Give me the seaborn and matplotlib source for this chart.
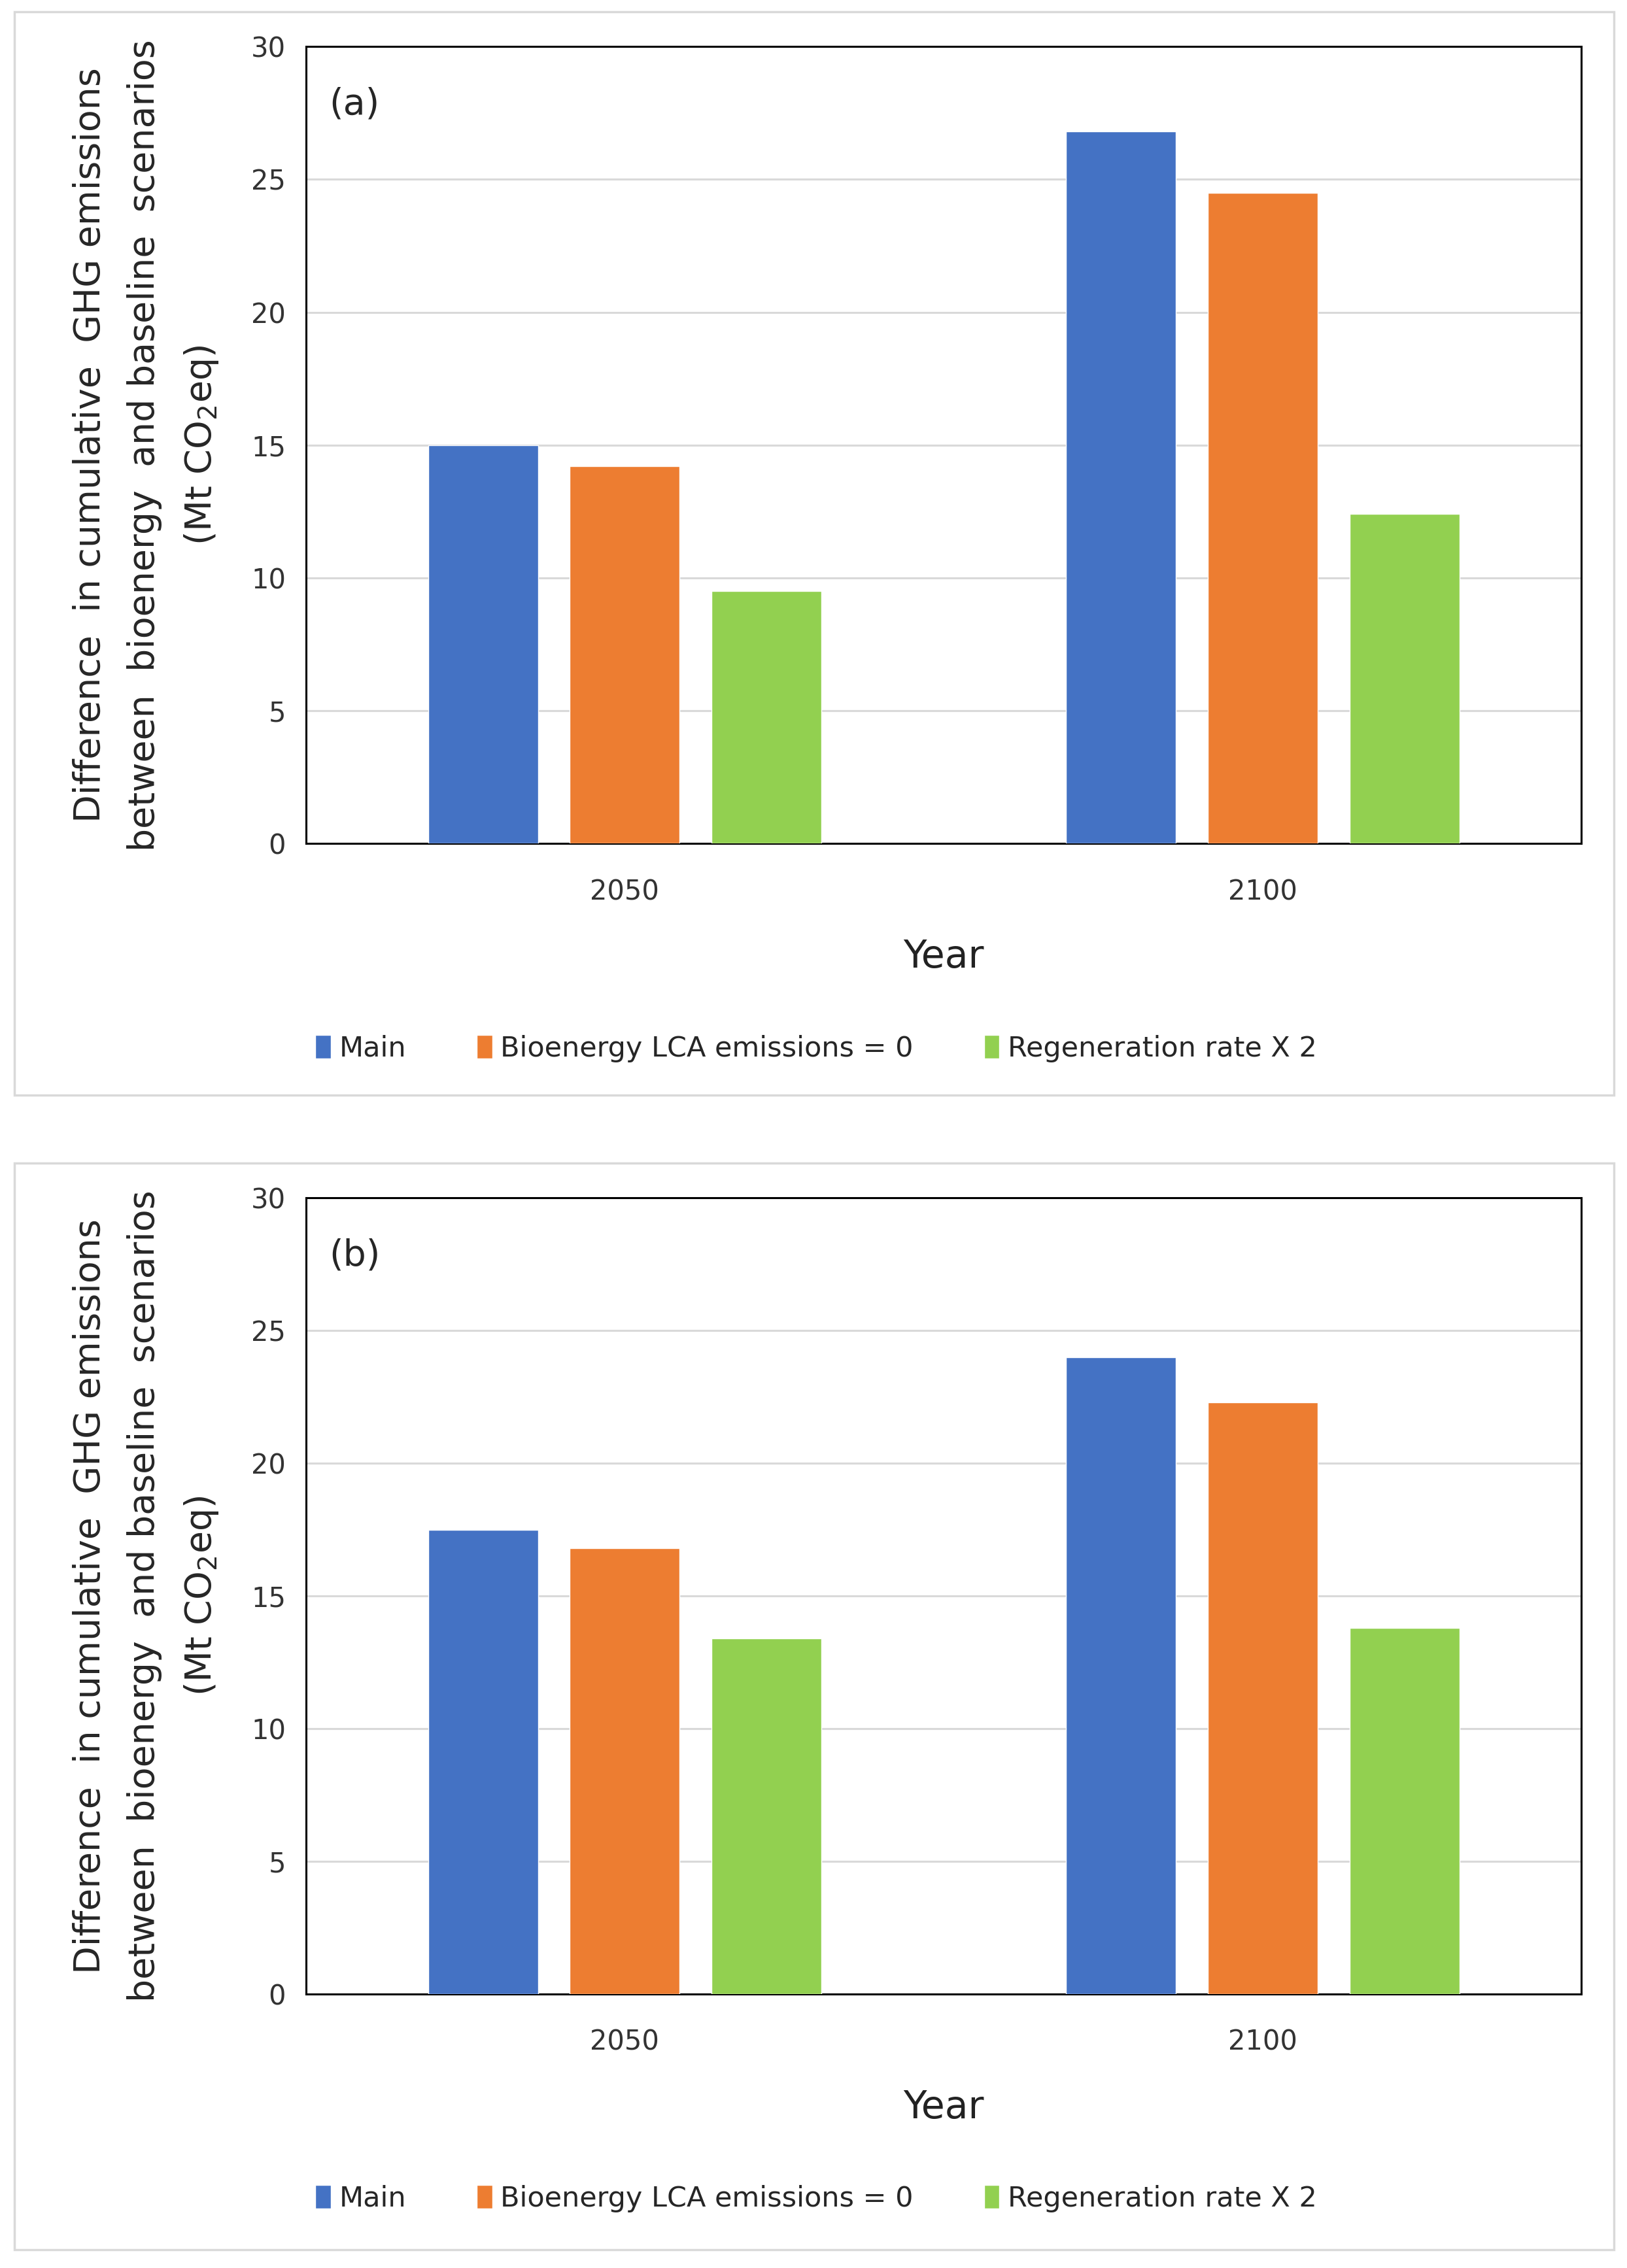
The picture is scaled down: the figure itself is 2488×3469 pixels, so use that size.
import pandas as pd
import matplotlib.pyplot as plt
import seaborn as sns
from matplotlib.patches import Rectangle

# Data
years = ['2050', '2100']
scenarios = ['Main', 'Bioenergy LCA emissions = 0', 'Regeneration rate X 2']
colors = ['#4472C4', '#ED7D31', '#92D050']

values_a = {
    'Main': [15.0, 26.8],
    'Bioenergy LCA emissions = 0': [14.2, 24.5],
    'Regeneration rate X 2': [9.5, 12.4],
}
values_b = {
    'Main': [17.5, 24.0],
    'Bioenergy LCA emissions = 0': [16.8, 22.3],
    'Regeneration rate X 2': [13.4, 13.8],
}
panel_labels = ['(a)', '(b)']

sns.set_theme(style='white')
plt.rcParams['font.family'] = ['DejaVu Sans']

fig = plt.figure(figsize=(24.88, 34.69), dpi=100)

ylab = ('Difference  in cumulative  GHG emissions\n'
        'between  bioenergy  and baseline  scenarios\n'
        '(Mt CO$_2$eq)')

boxes = [(0.0088, 0.5172, 0.983, 0.4777), (0.0088, 0.0081, 0.983, 0.479)]
axes_pos = [(0.188, 0.628, 0.784, 0.3515), (0.188, 0.1208, 0.784, 0.351)]

for vals, lab, box, pos in zip([values_a, values_b], panel_labels, boxes, axes_pos):
    # light frame around each panel
    fig.patches.append(Rectangle((box[0], box[1]), box[2], box[3], transform=fig.transFigure,
                                 fill=False, edgecolor='#D9D9D9', linewidth=2.5))
    df = pd.DataFrame([(y, s, vals[s][i]) for s in scenarios for i, y in enumerate(years)],
                      columns=['Year', 'Scenario', 'Value'])
    ax = fig.add_axes(pos)
    sns.barplot(data=df, x='Year', y='Value', hue='Scenario', hue_order=scenarios,
                palette=colors, width=0.667, gap=0.225, saturation=1, ax=ax,
                errorbar=None, zorder=3)
    ax.set_xlim(-0.5, 1.5)
    ax.set_ylim(0, 30)
    ax.set_yticks(range(0, 31, 5))
    ax.yaxis.grid(True, color='#D9D9D9', linewidth=2.2, zorder=0)
    ax.set_axisbelow(True)
    for sp in ax.spines.values():
        sp.set_color('black')
        sp.set_linewidth(2.2)
    ax.tick_params(axis='x', length=0, pad=38, labelsize=30, labelcolor='#333333')
    ax.tick_params(axis='y', length=0, pad=22, labelsize=30, labelcolor='#333333')
    ax.set_xlabel('Year', fontsize=42, labelpad=36, color='#222222')
    ax.set_ylabel(ylab, fontsize=40, labelpad=34, linespacing=1.7)
    ax.text(0.018, 0.95, lab, transform=ax.transAxes, fontsize=40,
            va='top', ha='left')
    ax.legend_.remove()
    handles, labels = ax.get_legend_handles_labels()
    ax.legend(handles, labels, loc='upper center', bbox_to_anchor=(0.40, -0.208),
              ncol=3, frameon=False, prop={'size': 31},
              handlelength=0.55, handleheight=0.9, handletextpad=0.3, columnspacing=2.5)

fig.savefig('out.png', dpi=100)
